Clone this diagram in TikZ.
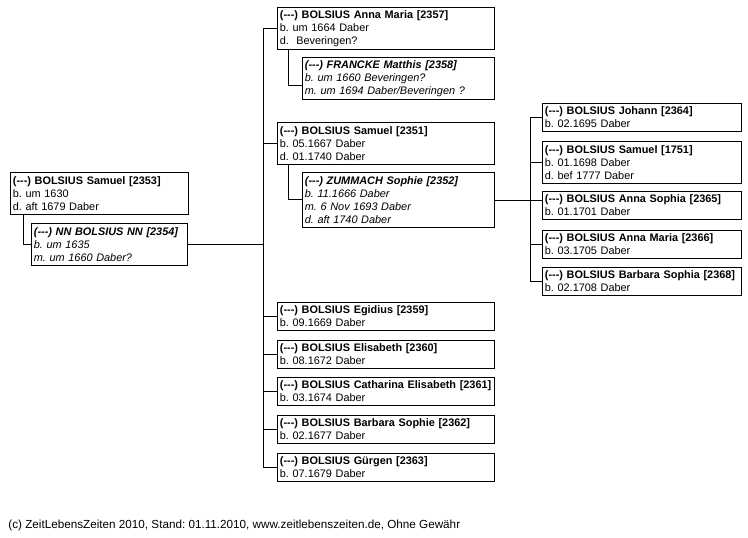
\documentclass[tikz,border=0pt]{standalone}
\usepackage{fontspec}
\setmainfont{Liberation Sans}
\frenchspacing

\begin{document}
\begin{tikzpicture}[x=1pt,y=-1pt,line width=0.8pt,
	person/.style={draw, anchor=north west, align=left, inner xsep=2.5pt, inner ysep=0pt,
		font=\fontsize{10.9}{13}\selectfont},
	twolines/.style={minimum height=28pt},
	threelines/.style={minimum height=42pt},
	fourlines/.style={minimum height=55pt}]

% ---------- Parameters of the drawing ----------
% Widths of the boxes (in px = pt)
\def\RootWidth{178}          % Box of the root person
\def\RootSpouseWidth{156}    % Box of the spouse of the root person
\def\MidWidth{217}           % Boxes of the children
\def\MidSpouseWidth{192}     % Boxes of the spouses of the children
\def\RightWidth{199}         % Boxes of the grandchildren
\def\BoxXSep{2.5}

% Horizontal positions of the vertical lines
\def\TrunkX{263}
\def\RightTrunkX{530}

% Unknown-number prefix of every name
\def\NoNr{(-{}-{}-)}

% ---------- Derived parameters of the drawing ----------
\pgfmathsetmacro{\RootText}{\RootWidth-2*\BoxXSep}
\pgfmathsetmacro{\RootSpouseText}{\RootSpouseWidth-2*\BoxXSep}
\pgfmathsetmacro{\MidText}{\MidWidth-2*\BoxXSep}
\pgfmathsetmacro{\MidSpouseText}{\MidSpouseWidth-2*\BoxXSep}
\pgfmathsetmacro{\RightText}{\RightWidth-2*\BoxXSep}

\useasboundingbox (0,0) rectangle (748,538);

\coordinate (trunk) at (\TrunkX,0);
\coordinate (rtrunk) at (\RightTrunkX,0);

% ---------- Root person and spouse ----------
\node[person, threelines, text width=\RootText pt] (root) at (10,172)
	{\textbf{\NoNr\ BOLSIUS Samuel [2353]}\\b. um 1630\\d. aft 1679 Daber};
\node[person, threelines, text width=\RootSpouseText pt] (nn) at (31,223)
	{\itshape\textbf{\NoNr\ NN BOLSIUS NN [2354]}\\b. um 1635\\m. um 1660 Daber?};

% ---------- Children ----------
\node[person, threelines, text width=\MidText pt] (annamaria) at (277,7)
	{\textbf{\NoNr\ BOLSIUS Anna Maria [2357]}\\b. um 1664 Daber\\d.\ \ Beveringen?};
\node[person, threelines, text width=\MidSpouseText pt] (francke) at (302,57)
	{\itshape\textbf{\NoNr\ FRANCKE Matthis [2358]}\\b. um 1660 Beveringen?\\m. um 1694 Daber/Beveringen ?};
\node[person, threelines, text width=\MidText pt] (samuel) at (277,122)
	{\textbf{\NoNr\ BOLSIUS Samuel [2351]}\\b. 05.1667 Daber\\d. 01.1740 Daber};
\node[person, fourlines, text width=\MidSpouseText pt] (zummach) at (302,172)
	{\itshape\textbf{\NoNr\ ZUMMACH Sophie [2352]}\\b. 11.1666 Daber\\m. 6 Nov 1693 Daber\\d. aft 1740 Daber};
\node[person, twolines, text width=\MidText pt] (egidius) at (277,302)
	{\textbf{\NoNr\ BOLSIUS Egidius [2359]}\\b. 09.1669 Daber};
\node[person, twolines, text width=\MidText pt] (elisabeth) at (277,340)
	{\textbf{\NoNr\ BOLSIUS Elisabeth [2360]}\\b. 08.1672 Daber};
\node[person, twolines, text width=\MidText pt] (catharina) at (277,377)
	{\textbf{\NoNr\ BOLSIUS Catharina Elisabeth [2361]}\\b. 03.1674 Daber};
\node[person, twolines, text width=\MidText pt] (barbara) at (277,415)
	{\textbf{\NoNr\ BOLSIUS Barbara Sophie [2362]}\\b. 02.1677 Daber};
\node[person, twolines, text width=\MidText pt] (guergen) at (277,453)
	{\textbf{\NoNr\ BOLSIUS Gürgen [2363]}\\b. 07.1679 Daber};

% ---------- Grandchildren ----------
\node[person, twolines, text width=\RightText pt] (johann) at (542,103)
	{\textbf{\NoNr\ BOLSIUS Johann [2364]}\\b. 02.1695 Daber};
\node[person, threelines, text width=\RightText pt] (samueljr) at (542,141)
	{\textbf{\NoNr\ BOLSIUS Samuel [1751]}\\b. 01.1698 Daber\\d. bef 1777 Daber};
\node[person, twolines, text width=\RightText pt] (annasophia) at (542,191)
	{\textbf{\NoNr\ BOLSIUS Anna Sophia [2365]}\\b. 01.1701 Daber};
\node[person, twolines, text width=\RightText pt] (annamariajr) at (542,230)
	{\textbf{\NoNr\ BOLSIUS Anna Maria [2366]}\\b. 03.1705 Daber};
\node[person, twolines, text width=\RightText pt] (barbarasophia) at (542,267)
	{\textbf{\NoNr\ BOLSIUS Barbara Sophia [2368]}\\b. 02.1708 Daber};

% ---------- Marriage lines ----------
\draw ([xshift=13pt]root.south west) |- ([yshift=-21pt]nn.north west);
\draw ([xshift=11pt]annamaria.south west) |- ([yshift=-28pt]francke.north west);
\draw ([xshift=11pt]samuel.south west) |- ([yshift=-27pt]zummach.north west);

% ---------- Lines to the children ----------
\draw (nn.east) -- (nn.east -| trunk);
\draw (annamaria.west -| trunk) -- (guergen.west -| trunk);
\foreach \child in {annamaria, samuel, egidius, elisabeth, catharina, barbara, guergen}{
	\draw (\child.west) -- (\child.west -| trunk);
}

% ---------- Lines to the grandchildren ----------
\draw (zummach.east) -- (zummach.east -| annasophia.west);
\draw (johann.west -| rtrunk) -- (barbarasophia.west -| rtrunk);
\foreach \child in {johann, samueljr, annamariajr, barbarasophia}{
	\draw (\child.west) -- (\child.west -| rtrunk);
}

% ---------- Footer ----------
\node[anchor=west, inner sep=0pt, font=\fontsize{11.7}{14}\selectfont] (footer) at (8,525)
	{(c) ZeitLebensZeiten 2010, Stand: 01.11.2010, www.zeitlebenszeiten.de, Ohne Gewähr};

\end{tikzpicture}
\end{document}
